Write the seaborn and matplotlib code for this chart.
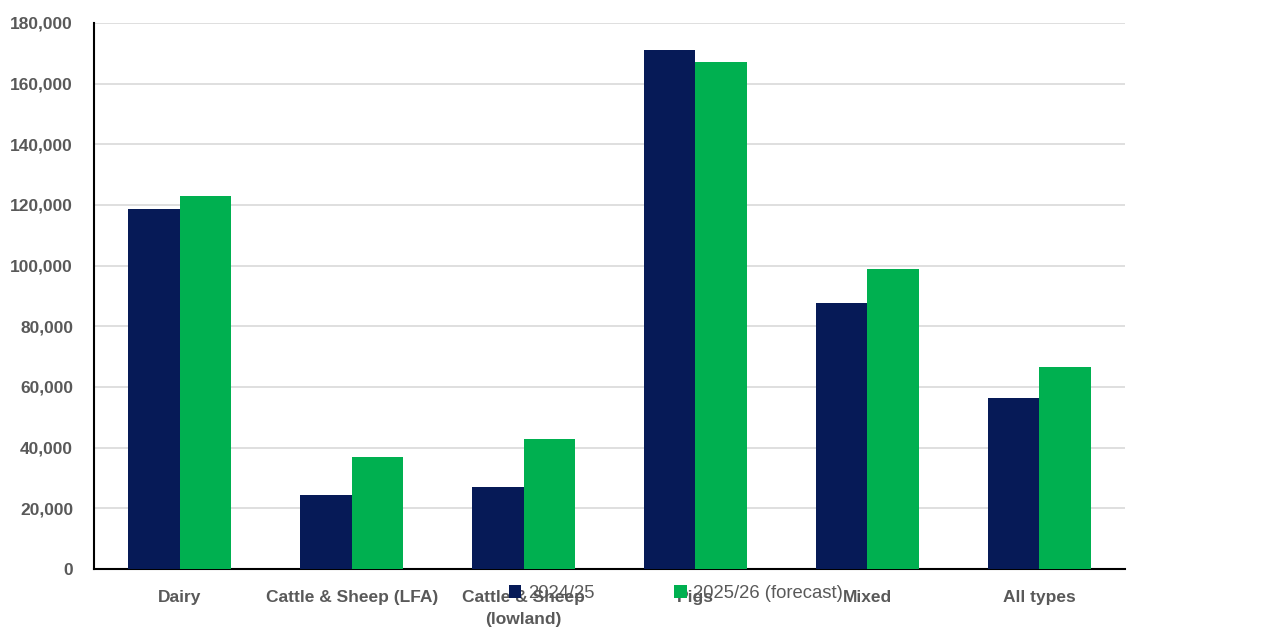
import seaborn as sns
import matplotlib.pyplot as plt
import pandas as pd
from matplotlib.ticker import FuncFormatter

categories = ['Dairy', 'Cattle & Sheep (LFA)', 'Cattle & Sheep\n(lowland)', 'Pigs', 'Mixed', 'All types']
series = ['2024/25', '2025/26 (forecast)']
values_2024 = [118700, 24400, 27000, 171100, 87700, 56400]
values_2025 = [123000, 37000, 42900, 167100, 98900, 66600]
colors = ['#061a57', '#00b050']

df = pd.DataFrame({
    'category': categories * 2,
    'year': [series[0]] * 6 + [series[1]] * 6,
    'value': values_2024 + values_2025,
})

sns.set_style('white')
plt.rcParams['font.family'] = ['Liberation Sans', 'DejaVu Sans']

fig = plt.figure(figsize=(12.8, 6.37), dpi=100)
ax = fig.add_axes([0.0734, 0.1068, 0.8055, 0.8571])

sns.barplot(data=df, x='category', y='value', hue='year', palette=colors,
            width=0.6, saturation=1, linewidth=0, ax=ax, zorder=3)

ax.set_xlim(-0.5, 5.5)
ax.set_ylim(0, 180000)
ax.set_yticks(range(0, 180001, 20000))
ax.yaxis.set_major_formatter(FuncFormatter(lambda v, p: f'{int(v):,}'))
ax.grid(axis='y', color='#d9d9d9', linewidth=1.2, zorder=0)
ax.set_axisbelow(True)
ax.set_xlabel('')
ax.set_ylabel('')

for s in ['top', 'right']:
    ax.spines[s].set_visible(False)
for s in ['left', 'bottom']:
    ax.spines[s].set_color('black')
    ax.spines[s].set_linewidth(1.5)

ax.tick_params(axis='both', length=0, labelsize=12.5, labelcolor='#595959')
ax.tick_params(axis='y', pad=15)
ax.tick_params(axis='x', pad=15)
for lab in ax.get_xticklabels() + ax.get_yticklabels():
    lab.set_fontweight('bold')
for lab in ax.get_xticklabels():
    lab.set_linespacing(1.6)

handles, labels = ax.get_legend_handles_labels()
ax.get_legend().remove()
fig.legend(handles, labels, loc='center', bbox_to_anchor=(0.528, 0.069), ncol=2,
           frameon=False, handlelength=0.7, handleheight=0.7, handletextpad=0.35,
           columnspacing=4.3, prop={'size': 13.3}, labelcolor='#595959')

fig.savefig('out.png', dpi=100)
